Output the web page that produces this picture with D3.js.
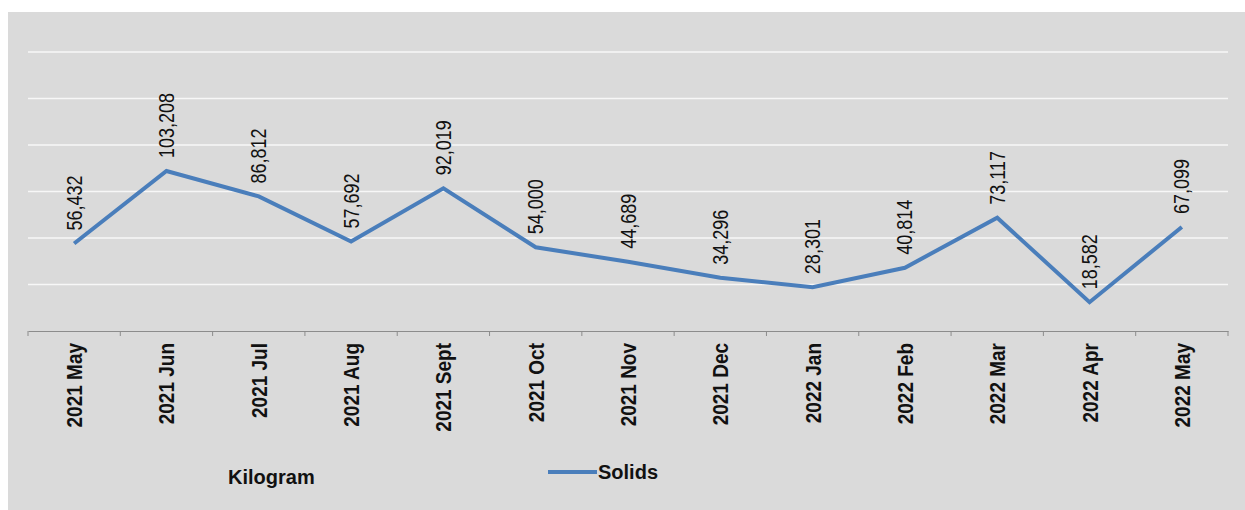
<!DOCTYPE html>
<html>
<head>
<meta charset="utf-8">
<script src="https://cdn.jsdelivr.net/npm/d3@7"></script>
<style>
  body { margin: 0; background: #fff; }
  svg { display: block; font-family: "Liberation Sans", Arial, sans-serif; }
</style>
</head>
<body>
<div id="chart"></div>
<script>
var months = ["2021 May", "2021 Jun", "2021 Jul", "2021 Aug", "2021 Sept", "2021 Oct", "2021 Nov",
  "2021 Dec", "2022 Jan", "2022 Feb", "2022 Mar", "2022 Apr", "2022 May"]
var solids = [56432, 103208, 86812, 57692, 92019, 54000, 44689, 34296, 28301, 40814, 73117, 18582, 67099]
var gridValues = [30000, 60000, 90000, 120000, 150000, 180000]
var seriesName = "Solids"
var unitLabel = "Kilogram"

t()
function t() {
  var W = 1245, H = 510
  var svg = d3.select("#chart").append("svg")
    .attr("width", W)
    .attr("height", H)

  // grey chart panel
  svg.append("rect")
    .attr("x", 8).attr("y", 12)
    .attr("width", W - 8).attr("height", H - 12)
    .attr("fill", "#dadada")

  var x = d3.scaleBand()
    .domain(months)
    .range([28, 1228])
  var y = d3.scaleLinear()
    .domain([0, 180000])
    .range([331, 52])

  var nf = d3.format(",")

  // gridlines
  svg.append("g")
    .selectAll("line").data(gridValues).enter().append("line")
    .attr("x1", 28).attr("x2", 1228)
    .attr("y1", d => y(d)).attr("y2", d => y(d))
    .attr("stroke", "#f7f7f7")
    .attr("stroke-width", 1.5)

  // x axis
  svg.append("g")
    .attr("transform", "translate(0," + y(0) + ")")
    .call(d3.axisBottom(x).tickSize(0).tickPadding(12))
    .call(g => {
      g.select(".domain").attr("stroke", "#8c8c8c").attr("stroke-width", 1.2)
      g.selectAll("text")
        .attr("transform", "rotate(-90) scale(1,1.2)")
        .attr("x", -12).attr("y", 0)
        .attr("dy", "0.35em")
        .style("text-anchor", "end")
        .attr("fill", "#111")
        .attr("font-size", 19)
        .attr("font-weight", 700)
        .style("font-family", "'Liberation Sans', Arial, sans-serif")
    })

  // tick marks at band edges
  var edges = months.map(m => x(m)).concat([x(months[months.length - 1]) + x.bandwidth()])
  svg.append("g")
    .selectAll("line").data(edges).enter().append("line")
    .attr("x1", d => d).attr("x2", d => d)
    .attr("y1", y(0)).attr("y2", y(0) + 5)
    .attr("stroke", "#8c8c8c")

  var cx = (d, i) => x(months[i]) + x.bandwidth() / 2

  var line = d3.line()
    .x((d, i) => cx(d, i))
    .y(d => y(d))

  svg.append("path")
    .datum(solids)
    .attr("d", line)
    .attr("fill", "none")
    .attr("stroke", "#4a7ebb")
    .attr("stroke-width", 4)
    .attr("stroke-linejoin", "miter")

  // data labels
  svg.append("g")
    .selectAll("text").data(solids).enter().append("text")
    .attr("transform", (d, i) => "translate(" + cx(d, i) + "," + (y(d) - 13) + ") rotate(-90) scale(1,1.2)")
    .attr("dy", "0.35em")
    .attr("fill", "#111")
    .attr("font-size", 18)
    .text(d => nf(d))

  // legend
  svg.append("text")
    .attr("x", 228).attr("y", 484)
    .attr("font-size", 20)
    .attr("font-weight", 700)
    .attr("fill", "#111")
    .text(unitLabel)

  svg.append("line")
    .attr("x1", 548).attr("x2", 597)
    .attr("y1", 472).attr("y2", 472)
    .attr("stroke", "#4a7ebb")
    .attr("stroke-width", 4)

  svg.append("text")
    .attr("x", 598).attr("y", 479)
    .attr("font-size", 20)
    .attr("font-weight", 700)
    .attr("fill", "#111")
    .text(seriesName)
}
</script>
</body>
</html>
